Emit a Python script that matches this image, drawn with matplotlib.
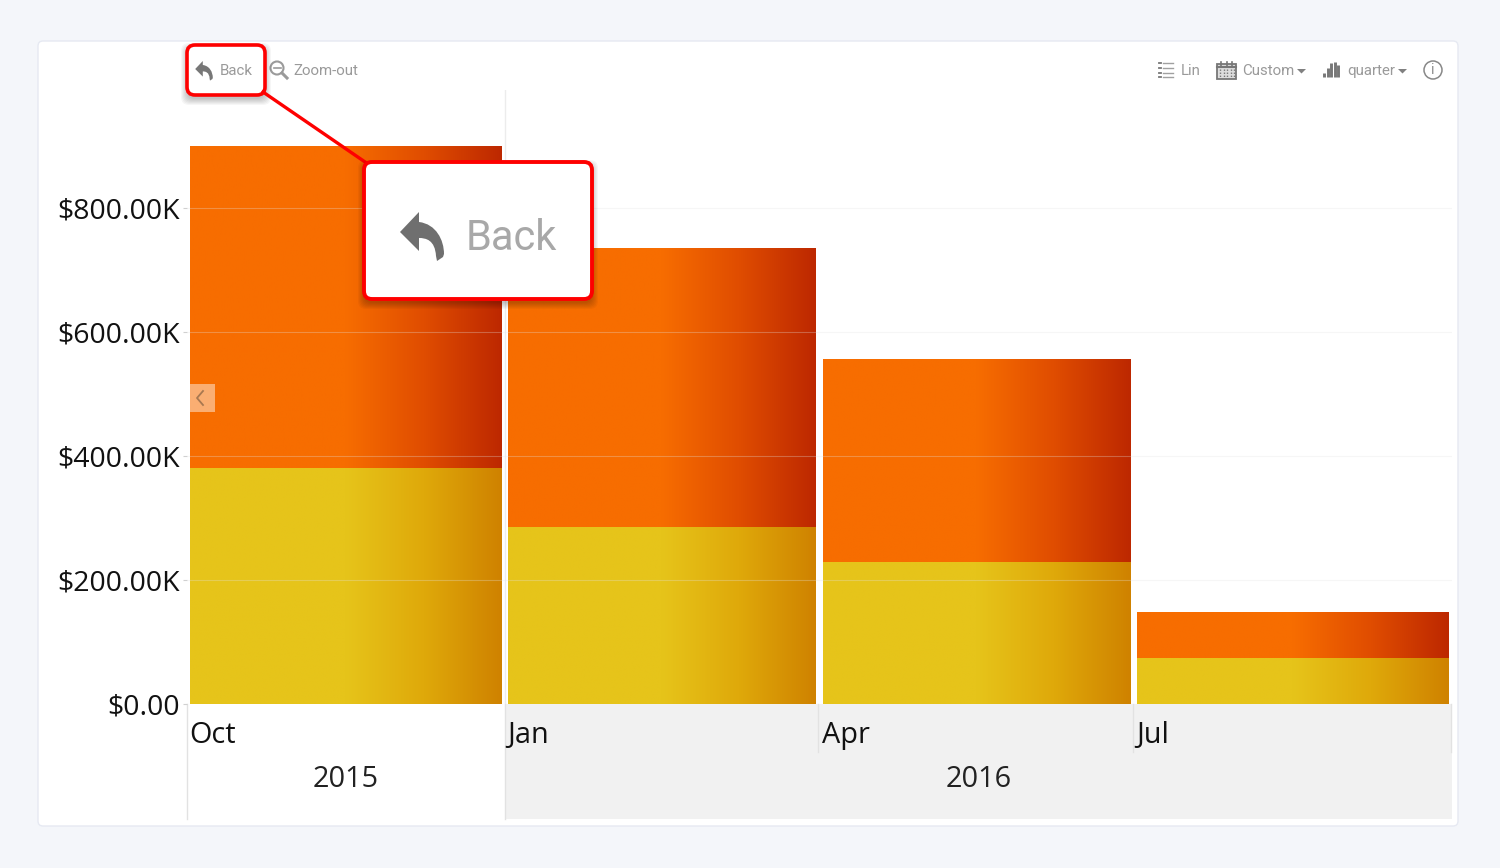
import numpy as np
from matplotlib import pyplot as plt
from matplotlib.colors import LinearSegmentedColormap
from matplotlib.patches import FancyBboxPatch, PathPatch, Rectangle, Circle
from matplotlib.path import Path
from matplotlib.transforms import Affine2D

plt.rcParams['font.family'] = 'Open Sans'

quarters = ['Oct', 'Jan', 'Apr', 'Jul']
quarter_days = [92, 91, 91, 92]
years = ['2015', '2016']
year_quarters = [(0, 1), (1, 4)]
lower = [380.5, 285.5, 229, 74]
upper = [518.5, 449, 326.5, 74]
yticks = [0, 200, 400, 600, 800]
ylabels = ['$0.00', '$200.00K', '$400.00K', '$600.00K', '$800.00K']

yellow = LinearSegmentedColormap.from_list('yellow', [(0, '#e6c41a'), (0.5, '#e6c41a'), (0.75, '#dfa90a'), (1, '#cf8200')])
orange = LinearSegmentedColormap.from_list('orange', [(0, '#f76d00'), (0.5, '#f76d00'), (0.75, '#e04d00'), (1, '#bd2800')])

W, H = 1500, 868
fig = plt.figure(figsize=[W / 100, H / 100], dpi=100, facecolor='#f4f6fa')


def px_axes(zorder):
    a = fig.add_axes([0, 0, 1, 1], zorder=zorder)
    a.set_xlim(0, W)
    a.set_ylim(H, 0)
    a.axis('off')
    return a


def shadow(a, x, y, w, h, z, dy=4, spread=7):
    for i in range(spread, 0, -1):
        a.add_patch(FancyBboxPatch((x - i + 1, y - i + 1 + dy), w + 2 * i - 2, h + 2 * i - 2,
                                   boxstyle='round,pad=0,rounding_size=8', fc='black', ec='none', alpha=0.035, zorder=z))


def back_icon(a, cx, cy, scale, color):
    verts = [(-22, 0), (-3, -20), (-3, -10), (14, -8), (22, 8), (22, 22), (21, 25), (15, 29), (14, 24), (13, 8), (4, 6),
             (-3, 6), (-3, 19), (-22, 0)]
    codes = [Path.MOVETO, Path.LINETO, Path.LINETO, Path.CURVE4, Path.CURVE4, Path.CURVE4, Path.LINETO, Path.LINETO,
             Path.LINETO, Path.CURVE4, Path.CURVE4, Path.CURVE4, Path.LINETO, Path.CLOSEPOLY]
    tr = Affine2D().scale(scale).translate(cx, cy) + a.transData
    a.add_patch(PathPatch(Path(verts, codes), fc=color, ec='none', transform=tr, zorder=12))


def tool_label(a, x, s):
    a.text(x, 75, s, fontsize=10.8, color='#9a9a9a', va='baseline', family='Roboto', zorder=12)


# page and card
bg = px_axes(0)
bg.add_patch(FancyBboxPatch((38, 41), 1420, 785, boxstyle='round,pad=0,rounding_size=5', fc='white', ec='#e6e9f2', lw=1))
bg.add_patch(Rectangle((505, 704), 947, 115, fc='#f1f1f1', ec='none'))
for x, y0, y1 in [(187, 704, 819), (505, 704, 819), (818, 704, 752), (1133, 704, 752), (1451, 704, 752)]:
    bg.plot([x, x], [y0, y1], color='#e2e2e2', lw=1)

# chart, x axis in days since the first quarter started
ax = fig.add_axes([187 / W, 1 - 704 / H, (1452 - 187) / W, (704 - 90) / H], zorder=1)
ax.patch.set_alpha(0)
days = np.array(quarter_days)
starts = np.concatenate([[0], np.cumsum(days)[:-1]])
width = days - 1.9
xpos = starts + days / 2
grad = np.linspace(0, 1, 256).reshape(1, -1)
bars_low = ax.bar(xpos, lower, width, color='none', zorder=2)
bars_up = ax.bar(xpos, upper, width, bottom=lower, color='none', zorder=2)
for bars, cmap in [(bars_low, yellow), (bars_up, orange)]:
    for b in bars:
        ax.imshow(grad, cmap=cmap, aspect='auto', zorder=2, vmin=0, vmax=1, interpolation='bilinear',
                  extent=[b.get_x(), b.get_x() + b.get_width(), b.get_y(), b.get_y() + b.get_height()])
ax.set_xlim(0, days.sum())
ax.set_ylim(0, 990.3)
ax.set_yticks(yticks)
ax.set_yticklabels(ylabels, fontsize=20.5, color='#111111')
ax.tick_params(axis='y', length=3, width=0.8, color='#d0d0d0', pad=1.8)
ax.set_xticks([])
for s in ax.spines.values():
    s.set_visible(False)
for t in yticks[1:]:
    ax.axhline(t, color='#e4e4e4', lw=0.8, alpha=0.3, zorder=3)
ax.axvline(days[0], color='#ececec', lw=1, zorder=1)

tr = ax.get_xaxis_transform()
for s, q in zip(starts, quarters):
    ax.annotate(q, (s, 0), xycoords=tr, xytext=(1.8, -22.7), textcoords='offset points', ha='left', va='center',
                fontsize=20.8, color='#111111')
edges = np.concatenate([[0], np.cumsum(days)])
for year, (a0, a1) in zip(years, year_quarters):
    ax.annotate(year, ((edges[a0] + edges[a1]) / 2, 0), xycoords=tr, xytext=(0, -54.7), textcoords='offset points',
                ha='center', va='center', fontsize=20.8, color='#222222')

# toolbar and callouts
top = px_axes(2)
grey = '#9a9a9a'
shadow(top, 187, 45, 78, 50, 5)
top.add_patch(FancyBboxPatch((187, 45), 78, 50, boxstyle='round,pad=0,rounding_size=8', fc='white', ec='#fe0000', lw=2.6, zorder=6))
top.plot([263, 368], [92, 164], color='#fe0000', lw=2.4, zorder=6)

back_icon(top, 204, 69, 0.4, '#777777')
tool_label(top, 220, 'Back')
top.add_patch(Circle((277, 68), 6.5, fc='none', ec=grey, lw=1.5))
top.plot([273.5, 280.5], [68, 68], color=grey, lw=1.2)
top.plot([282, 287], [73, 78], color=grey, lw=2.2)
tool_label(top, 293, 'Zoom-out')

for y in [62.5, 67.5, 72.5, 77]:
    top.plot([1158.5, 1161], [y, y], color='#777777', lw=1.3)
    top.plot([1162.5, 1173], [y, y], color='#a0a0a0', lw=1)
tool_label(top, 1181, 'Lin')

top.add_patch(Rectangle((1217, 64), 19, 15, fc='#dddddd', ec='#777777', lw=1.3))
top.plot([1217, 1236], [67, 67], color='#777777', lw=1.5)
for x in [1221, 1226.5, 1232]:
    top.plot([x, x], [62, 66], color='#777777', lw=1.2)
for x in [1220, 1223.5, 1227, 1230.5, 1234]:
    top.plot([x, x], [69, 78], color='#777777', lw=1, ls=(0, (1, 1.2)))
tool_label(top, 1242, 'Custom')
top.fill([1297, 1306, 1301.5], [69, 69, 73.5], color='#808080', lw=0)

for x, h in zip([1324, 1327.5, 1331, 1334.5, 1338], [4, 9, 14, 15, 12]):
    top.plot([x, x], [77, 77 - h], color='#777777', lw=2.1, solid_capstyle='butt')
tool_label(top, 1347, 'quarter')
top.fill([1398, 1407, 1402.5], [69, 69, 73.5], color='#808080', lw=0)

top.add_patch(Circle((1433, 70), 9, fc='none', ec='#888888', lw=1.1))
top.text(1433, 70, 'i', fontsize=10, color='#888888', ha='center', va='center', family='Roboto')

# collapse handle
top.add_patch(Rectangle((190, 384), 25, 28, fc='white', ec='none', alpha=0.45))
top.plot([203, 197, 203], [391, 398, 405], color='#a87850', lw=1.3)

shadow(top, 364, 162, 228, 137, 8)
top.add_patch(FancyBboxPatch((364, 162), 228, 137, boxstyle='round,pad=0,rounding_size=8', fc='white', ec='#fe0000', lw=2.8, zorder=9))
back_icon(top, 422, 232, 1.0, '#6f6f6f')
top.text(466, 238, 'Back', fontsize=30, color='#a8a8a8', va='center', family='Roboto', zorder=12)

fig.savefig('out.png', dpi=100, facecolor=fig.get_facecolor())
